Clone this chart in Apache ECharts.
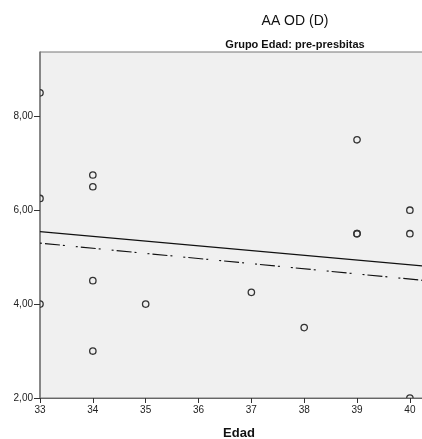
<!DOCTYPE html>
<html>
<head>
<meta charset="utf-8">
<script src="https://cdn.jsdelivr.net/npm/echarts@6/dist/echarts.min.js"></script>
<style>
  html, body { margin: 0; padding: 0; background: #ffffff; }
  #chart { width: 422px; height: 439px; }
</style>
</head>
<body>
<div id="chart"></div>
<script>
// Observations: age (Edad) and AA OD (D)
const edad = [33, 33, 33, 34, 34, 34, 34, 35, 37, 38, 39, 39, 39, 40, 40, 40];
const aaOD = [8.5, 6.25, 4, 6.75, 6.5, 4.5, 3, 4, 4.25, 3.5, 7.5, 5.5, 5.5, 6, 5.5, 2];

// Tick labels
const xTicks = [33, 34, 35, 36, 37, 38, 39, 40];
const yTicks = [2, 4, 6, 8];

// Axis ranges
const xRange = [33, 40.57];
const yRange = [2, 9.37];

// Reference (dash-dot) line end points
const refLineX = [33, 40.57];
const refLineY = [5.30, 4.47];

// Least-squares fit of the observations (solid line)
function linearFit(xs, ys) {
  const n = xs.length;
  const mx = xs.reduce((a, b) => a + b, 0) / n;
  const my = ys.reduce((a, b) => a + b, 0) / n;
  let sxy = 0, sxx = 0;
  for (let i = 0; i < n; i++) {
    sxy += (xs[i] - mx) * (ys[i] - my);
    sxx += (xs[i] - mx) * (xs[i] - mx);
  }
  const slope = sxy / sxx;
  return x => my + slope * (x - mx);
}
const fit = linearFit(edad, aaOD);
const fitLine = xRange.map(x => [x, fit(x)]);
const refLine = refLineX.map((x, i) => [x, refLineY[i]]);
const points = edad.map((x, i) => [x, aaOD[i]]);

const labelFont = { fontFamily: 'Liberation Sans, Arial, sans-serif', fontSize: 10, color: '#222' };

const chart = echarts.init(document.getElementById('chart'), null, { renderer: 'canvas' });
chart.setOption({
  animation: false,
  backgroundColor: '#ffffff',
  title: [
    {
      text: 'AA OD (D)',
      left: 290, top: 9, textAlign: 'center',
      textStyle: { fontFamily: 'Liberation Sans, Arial, sans-serif', fontSize: 14, fontWeight: 'normal', color: '#111' }
    },
    {
      text: 'Grupo Edad: pre-presbitas',
      left: 290, top: 34, textAlign: 'center',
      textStyle: { fontFamily: 'Liberation Sans, Arial, sans-serif', fontSize: 11, fontWeight: 'bold', color: '#111' }
    },
    {
      text: 'Edad',
      left: 234, top: 422, textAlign: 'center',
      textStyle: { fontFamily: 'Liberation Sans, Arial, sans-serif', fontSize: 13, fontWeight: 'bold', color: '#111' }
    }
  ],
  grid: {
    left: 40, top: 52, width: 400, height: 346,
    outerBoundsMode: 'none',
    show: true, backgroundColor: '#f0f0f0', borderColor: '#777', borderWidth: 1
  },
  xAxis: {
    type: 'value', min: xRange[0], max: xRange[1],
    splitLine: { show: false },
    axisLine: { show: true, lineStyle: { color: '#666', width: 1 } },
    axisTick: { show: true, customValues: xTicks, length: 5, lineStyle: { color: '#333' } },
    axisLabel: { customValues: xTicks, margin: 7, ...labelFont }
  },
  yAxis: {
    type: 'value', min: yRange[0], max: yRange[1],
    splitLine: { show: false },
    axisLine: { show: true, lineStyle: { color: '#777', width: 1.5 } },
    axisTick: { show: true, customValues: yTicks, length: 6, lineStyle: { color: '#333' } },
    axisLabel: {
      customValues: yTicks, margin: 7, ...labelFont,
      formatter: v => v.toFixed(2).replace('.', ',')
    }
  },
  series: [
    {
      type: 'line', data: refLine, symbol: 'none', clip: true,
      lineStyle: { color: '#111', width: 1.2, type: [2, 3, 15, 3, 2, 11] }
    },
    {
      type: 'line', data: fitLine, symbol: 'none', clip: true,
      lineStyle: { color: '#111', width: 1.3 }
    },
    {
      // open circles, clipped to the plot area
      type: 'custom', data: points, clip: true,
      renderItem: (params, api) => {
        const c = api.coord([api.value(0), api.value(1)]);
        return {
          type: 'circle',
          shape: { cx: c[0], cy: c[1], r: 3.2 },
          style: { fill: 'none', stroke: '#333', lineWidth: 1.3 }
        };
      }
    }
  ]
});
</script>
</body>
</html>
